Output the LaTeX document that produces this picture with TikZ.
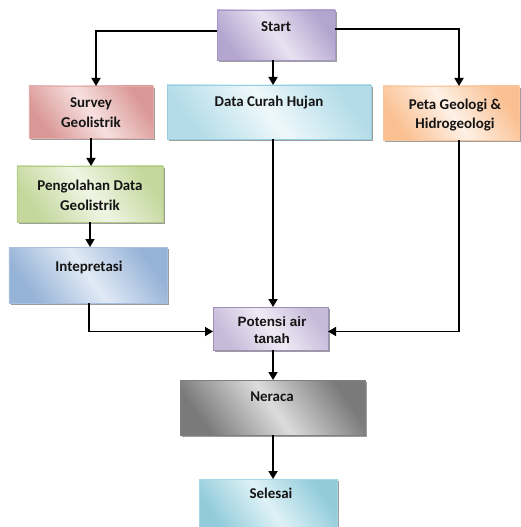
\documentclass[tikz,border=0pt]{standalone}
\usepackage{fontspec}
\setmainfont{Carlito}
\newfontfamily\arialfont{Liberation Sans}
\usetikzlibrary{arrows.meta,positioning,calc,shadows}
\definecolor{StartLine}{HTML}{A797C6}
\definecolor{StartLight}{HTML}{E8E2F1}
\definecolor{StartDark}{HTML}{B4A5CF}
\definecolor{SurveyLine}{HTML}{E3AEAD}
\definecolor{SurveyLight}{HTML}{F6E0DF}
\definecolor{SurveyDark}{HTML}{D99795}
\definecolor{DataLine}{HTML}{93D1E2}
\definecolor{DataLight}{HTML}{EEF8FB}
\definecolor{DataDark}{HTML}{B3DCE8}
\definecolor{PetaLine}{HTML}{FBC79A}
\definecolor{PetaLight}{HTML}{FEF1E6}
\definecolor{PetaDark}{HTML}{FAC092}
\definecolor{OlahLine}{HTML}{B5CC83}
\definecolor{OlahLight}{HTML}{F0F5E4}
\definecolor{OlahDark}{HTML}{C4D89D}
\definecolor{TafsirLine}{HTML}{A8BFDD}
\definecolor{TafsirLight}{HTML}{E1EAF5}
\definecolor{TafsirDark}{HTML}{95B2D7}
\definecolor{AirLine}{HTML}{9D8FBA}
\definecolor{AirLight}{HTML}{EEEAF4}
\definecolor{AirDark}{HTML}{C7BBDA}
\definecolor{NeracaLine}{HTML}{7F7F7F}
\definecolor{NeracaLight}{HTML}{DCDCDC}
\definecolor{NeracaDark}{HTML}{7A7A7A}
\definecolor{SelesaiLine}{HTML}{A6D7E4}
\definecolor{SelesaiLight}{HTML}{DEF1F6}
\definecolor{SelesaiDark}{HTML}{92CCDB}

\begin{document}
\begin{tikzpicture}[x=1bp,y=-1bp,
  box/.style n args={3}{draw=#1,line width=0.8bp,left color=#3,right color=#3,
    middle color=#2,shading angle=125,outer sep=0pt,
    drop shadow={shadow xshift=2bp,shadow yshift=-2bp,fill=black!55,opacity=0.7}},
  lbl/.style={font=\fontsize{15}{20}\selectfont\bfseries,align=center,inner sep=0pt,text=black!92},
  arr/.style={line width=1.7bp,-{Triangle[length=8bp,width=9bp]}}]
  \useasboundingbox (0,0) rectangle (521,527);
  \node[box={StartLine}{StartLight}{StartDark},minimum width=118bp,minimum height=50bp] (start) at (276,35) {};
  \node[lbl] (startt) at (276,27) {Start};
  \node[box={SurveyLine}{SurveyLight}{SurveyDark},minimum width=124bp,minimum height=52bp] (survey) at (91,112) {};
  \node[lbl] (surveyt) at (91,113) {Survey\\Geolistrik};
  \node[box={DataLine}{DataLight}{DataDark},minimum width=204bp,minimum height=54bp] (data) at (269,112) {};
  \node[lbl] (datat) at (269,103) {Data Curah Hujan};
  \node[box={PetaLine}{PetaLight}{PetaDark},minimum width=136bp,minimum height=54bp] (peta) at (451,113) {};
  \node[lbl] (petat) at (455,115) {Peta Geologi \&\\Hidrogeologi};
  \node[box={OlahLine}{OlahLight}{OlahDark},minimum width=146bp,minimum height=56bp] (olah) at (90,194) {};
  \node[lbl] (olaht) at (90,195) {Pengolahan Data\\Geolistrik};
  \node[box={TafsirLine}{TafsirLight}{TafsirDark},minimum width=158bp,minimum height=56bp] (tafsir) at (88,275) {};
  \node[lbl] (tafsirt) at (89,267) {Intepretasi};
  \node[box={AirLine}{AirLight}{AirDark},minimum width=115bp,minimum height=43bp] (air) at (270.5,328.5) {};
  \node[lbl,font=\arialfont\fontsize{13.5}{17}\selectfont\bfseries] (airt) at (272,330) {Potensi air\\tanah};
  \node[box={NeracaLine}{NeracaLight}{NeracaDark},minimum width=185bp,minimum height=55bp] (neraca) at (272.5,407.5) {};
  \node[lbl] (neracat) at (272,397) {Neraca};
  \node[box={SelesaiLine}{SelesaiLight}{SelesaiDark},minimum width=138bp,minimum height=52bp] (selesai) at (268,505) {};
  \node[lbl] (selesait) at (271,493) {Selesai};
  \coordinate (cx) at (273,0);
  \draw[arr] ([yshift=4bp]start.west) -| ([xshift=5bp]survey.north);
  \draw[arr] (start.south -| cx) -- (data.north -| cx);
  \draw[arr] ([yshift=6bp]start.east) -| ([xshift=8bp]peta.north);
  \draw[arr] (survey.south) -- (survey.south |- olah.north);
  \draw[arr] (olah.south) -- (olah.south |- tafsir.north);
  \draw[arr] ([xshift=1bp]tafsir.south) |- ([yshift=-3bp]air.west);
  \draw[arr] (data.south -| cx) -- (air.north -| cx);
  \draw[arr] ([xshift=8bp]peta.south) |- ([yshift=-3bp]air.east);
  \draw[arr] (air.south -| cx) -- (neraca.north -| cx);
  \draw[arr] (neraca.south -| cx) -- (selesai.north -| cx);
\end{tikzpicture}
\end{document}
